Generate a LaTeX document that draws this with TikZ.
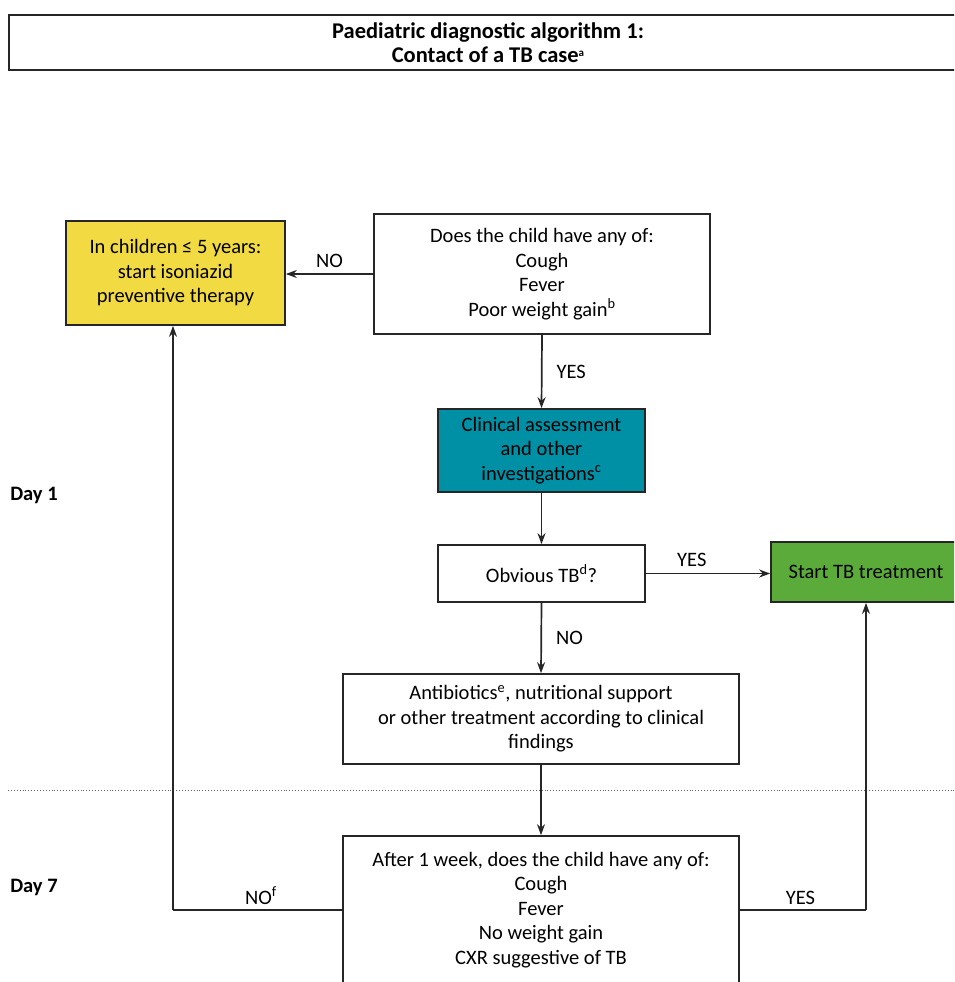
\documentclass[tikz,border=0pt]{standalone}
\usepackage{fontspec}
\setmainfont{Carlito}
\usetikzlibrary{arrows.meta}
\definecolor{boxyellow}{RGB}{242,219,66}
\definecolor{boxteal}{RGB}{0,144,166}
\definecolor{boxgreen}{RGB}{91,171,58}
\tikzset{
  x=1pt,y=-1pt,
  every node/.style={font=\fontsize{20.5}{24.5}\selectfont},
  flowbox/.style={draw=black!85,line width=1.7pt,inner sep=0pt,align=center},
  lbl/.style={inner sep=0pt},
  arr/.style={line width=1.7pt,draw=black!85,-{Stealth[length=11pt,width=8pt]}},
  plainline/.style={line width=1.7pt,draw=black!85},
}
\begin{document}
\begin{tikzpicture}
\useasboundingbox (0,0) rectangle (954,982);
\clip (0,0) rectangle (954,982);
\node[flowbox,line width=2pt,minimum width=958pt,minimum height=55pt,font=\fontsize{22.5}{24}\selectfont\bfseries] (title) at (488,42.5) {Paediatric diagnostic algorithm 1:\\Contact of a TB case\raisebox{0.55ex}{\fontsize{11}{11}\selectfont a}};
\node[flowbox,fill=boxyellow,minimum width=219pt,minimum height=104pt] (ipt) at (175.5,273) {In children ≤ 5 years:\\start isoniazid\\preventive therapy};
\node[flowbox,minimum width=336pt,minimum height=120pt] (q1) at (542,274) {Does the child have any of:\\Cough\\Fever\\Poor weight gain\textsuperscript{b}};
\node[flowbox,fill=boxteal,minimum width=207pt,minimum height=83pt] (clin) at (541.5,450.5) {Clinical assessment\\and other\\investigations\textsuperscript{c}};
\node[flowbox,minimum width=207pt,minimum height=57pt] (obv) at (541.5,573.5) {Obvious TB\textsuperscript{d}?};
\node[flowbox,fill=boxgreen,minimum width=190pt,minimum height=60pt] (start) at (866,572) {Start TB treatment};
\node[flowbox,minimum width=396pt,minimum height=90pt] (anti) at (541,719) {Antibiotics\textsuperscript{e}, nutritional support\\or other treatment according to clinical\\findings};
\node[flowbox,minimum width=396pt,minimum height=148pt] (after) at (541,910) {After 1 week, does the child have any of:\\Cough\\Fever\\No weight gain\\CXR suggestive of TB};
\node[lbl,font=\fontsize{20.5}{24.5}\selectfont\bfseries] (day1) at (34,495) {Day 1};
\node[lbl,font=\fontsize{20.5}{24.5}\selectfont\bfseries] (day7) at (34,887) {Day 7};
\draw[black!60,line width=0.9pt,dotted] (8,790) -- (954,790);
\draw[arr] (q1.west) -- (ipt.east |- q1.west) node[lbl,midway,above=6pt] {NO};
\draw[arr] (q1.south) -- (clin.north) node[lbl,midway,right=14pt] {YES};
\draw[arr] (clin.south) -- (obv.north);
\draw[arr] (obv.east) -- (start.west |- obv.east) node[lbl,pos=0.37,above=6pt] {YES};
\draw[arr] (obv.south) -- (anti.north) node[lbl,midway,right=14pt] {NO};
\draw[arr] (anti.south) -- (after.north);
\coordinate (nocorner) at (173,910);
\coordinate (yescorner) at (866,910);
\draw[plainline] (after.west) -- (nocorner) node[lbl,pos=0.48,above=5pt] {NO\textsuperscript{f}};
\draw[arr] (nocorner) -- (nocorner |- ipt.south);
\draw[plainline] (after.east) -- (yescorner) node[lbl,pos=0.48,above=5pt] {YES};
\draw[arr] (yescorner) -- (start.south);
\end{tikzpicture}
\end{document}
